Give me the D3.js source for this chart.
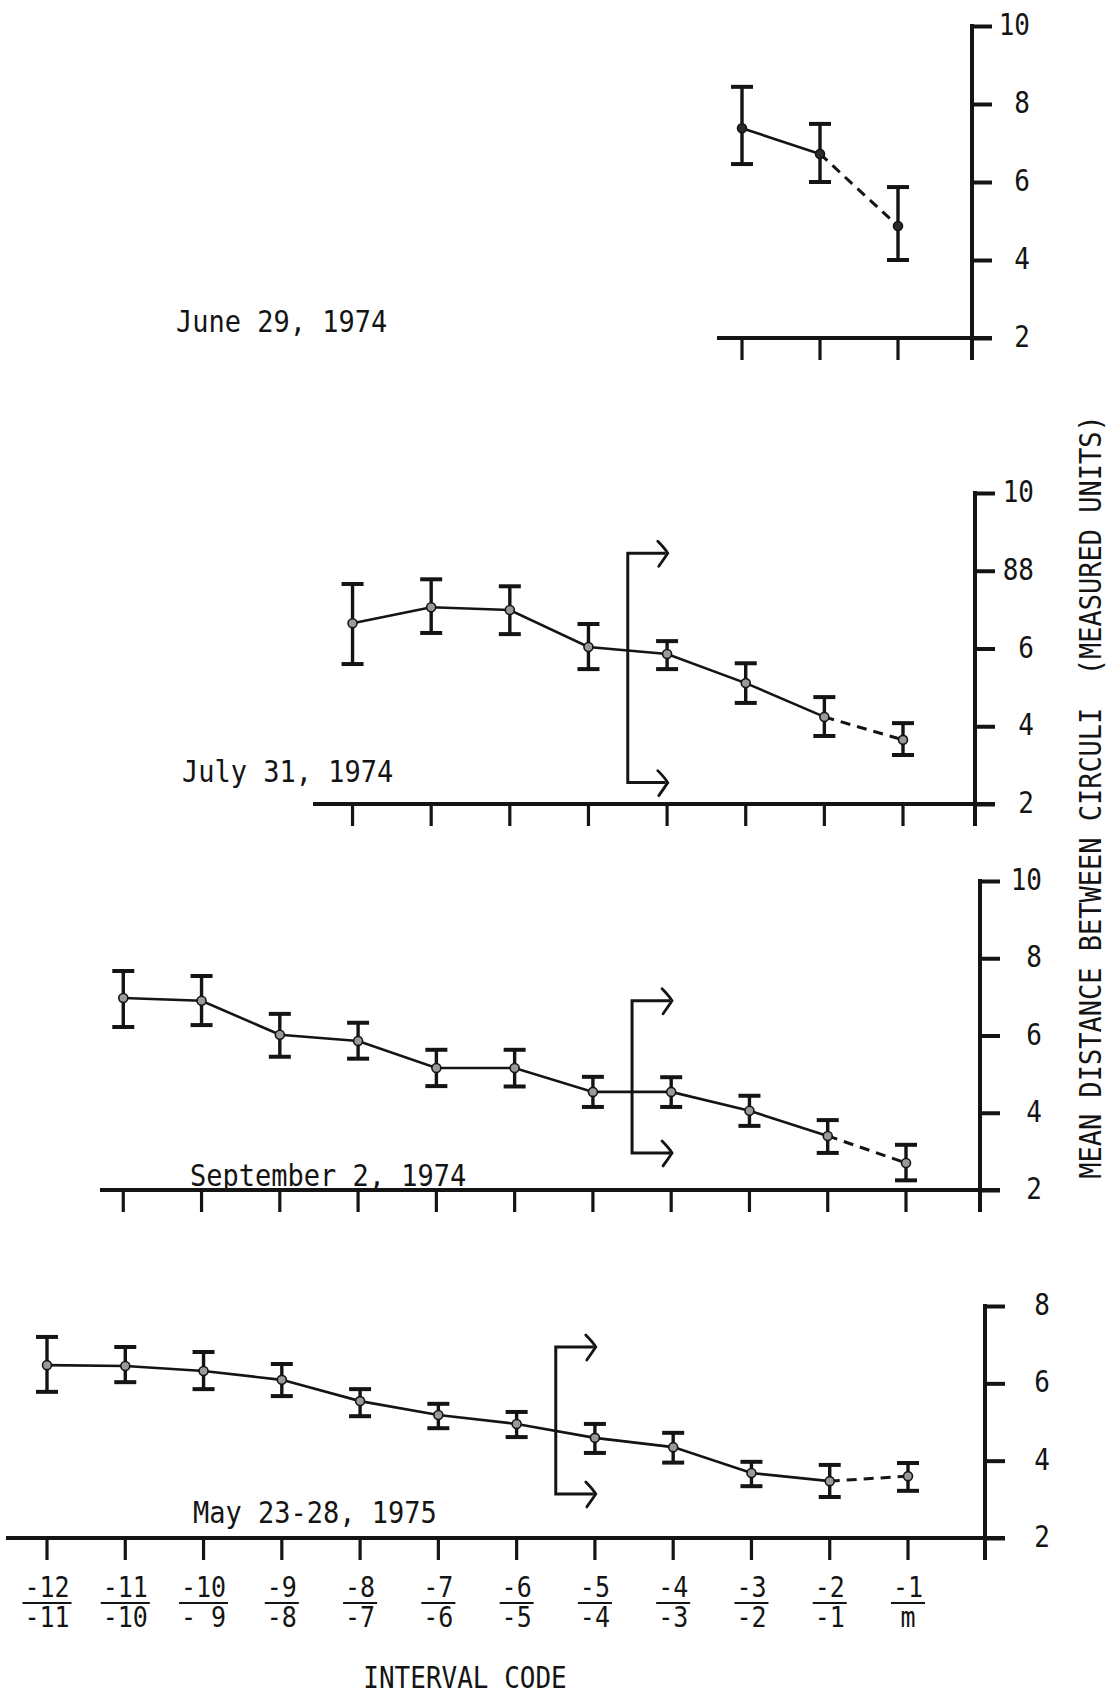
<!DOCTYPE html>
<html>
<head>
<meta charset="utf-8">
<script src="https://cdn.jsdelivr.net/npm/d3@7"></script>
<style>
  body { margin: 0; background: #fff; }
  svg { display: block; background: #fff; }
  text { font-family: "DejaVu Sans Mono", monospace; fill: #141414; }
</style>
</head>
<body>
<svg id="chart" width="1113" height="1695"></svg>
<script>
// Interval codes along the shared x axis (numerator over denominator)
const intervalCodes = ["-12/-11", "-11/-10", "-10/-9", "-9/-8", "-8/-7", "-7/-6",
                       "-6/-5", "-5/-4", "-4/-3", "-3/-2", "-2/-1", "-1/m"];
const codeNumerators   = ["-12", "-11", "-10", "-9", "-8", "-7", "-6", "-5", "-4", "-3", "-2", "-1"];
const codeDenominators = ["-11", "-10", "- 9", "-8", "-7", "-6", "-5", "-4", "-3", "-2", "-1", "m"];

// Sampling dates
const panelTitles = ["June 29, 1974", "July 31, 1974", "September 2, 1974", "May 23-28, 1975"];

// June 29, 1974 — mean and range of distance between circuli
const june1974Mean  = [7.38, 6.72, 4.87];
const june1974Upper = [8.44, 7.49, 5.87];
const june1974Lower = [6.46, 6.00, 4.00];

// July 31, 1974
const july1974Mean  = [6.65, 7.06, 6.99, 6.04, 5.86, 5.11, 4.24, 3.65];
const july1974Upper = [7.66, 7.78, 7.60, 6.63, 6.19, 5.62, 4.75, 4.08];
const july1974Lower = [5.60, 6.40, 6.37, 5.47, 5.47, 4.60, 3.75, 3.26];

// September 2, 1974
const sept1974Mean  = [6.97, 6.90, 6.02, 5.86, 5.16, 5.16, 4.54, 4.54, 4.05, 3.40, 2.70];
const sept1974Upper = [7.67, 7.54, 6.56, 6.33, 5.63, 5.63, 4.93, 4.92, 4.44, 3.81, 3.17];
const sept1974Lower = [6.22, 6.27, 5.45, 5.40, 4.69, 4.68, 4.15, 4.15, 3.66, 2.96, 2.25];

// May 23-28, 1975
const may1975Mean  = [6.47, 6.45, 6.32, 6.09, 5.54, 5.18, 4.95, 4.59, 4.35, 3.68, 3.47, 3.60];
const may1975Upper = [7.20, 6.94, 6.81, 6.50, 5.85, 5.47, 5.26, 4.95, 4.72, 3.97, 3.89, 3.94];
const may1975Lower = [5.78, 6.03, 5.85, 5.67, 5.15, 4.84, 4.61, 4.20, 3.95, 3.34, 3.06, 3.22];

// Y tick values and their printed labels
const yTicksTen  = [10, 8, 6, 4, 2];
const yTicksEight = [8, 6, 4, 2];
const june1974TickLabels = ["10", "8", "6", "4", "2"];
const july1974TickLabels = ["10", "88", "6", "4", "2"];
const sept1974TickLabels = ["10", "8", "6", "4", "2"];
const may1975TickLabels  = ["8", "6", "4", "2"];

// Annulus brackets: the pair of codes they fall between
const july1974Bracket = ["-5/-4", "-4/-3"];
const sept1974Bracket = ["-5/-4", "-4/-3"];
const may1975Bracket  = ["-6/-5", "-5/-4"];

const yAxisTitle = "MEAN DISTANCE BETWEEN CIRCULI  (MEASURED UNITS)";
const xAxisTitle = "INTERVAL CODE";

const panels = [
  { title: panelTitles[0], mean: june1974Mean, upper: june1974Upper, lower: june1974Lower,
    ticks: yTicksTen, tickLabels: june1974TickLabels, bracket: null,
    L: { x0: 40, x1: 898, axisX: 972, yBottom: 338, yTop: 26, top: 10, baseStart: 717,
         labelX: 1030, titleX: 176, titleY: 332, marker: "#2b2b2b", span: null } },
  { title: panelTitles[1], mean: july1974Mean, upper: july1974Upper, lower: july1974Lower,
    ticks: yTicksTen, tickLabels: july1974TickLabels, bracket: july1974Bracket,
    L: { x0: 38, x1: 903, axisX: 975, yBottom: 804, yTop: 493, top: 10, baseStart: 313,
         labelX: 1034, titleX: 182, titleY: 782, marker: "#9a9a9a", span: [8.45, 2.55] } },
  { title: panelTitles[2], mean: sept1974Mean, upper: sept1974Upper, lower: sept1974Lower,
    ticks: yTicksTen, tickLabels: sept1974TickLabels, bracket: sept1974Bracket,
    L: { x0: 45, x1: 906, axisX: 980, yBottom: 1190, yTop: 881, top: 10, baseStart: 100,
         labelX: 1042, titleX: 190, titleY: 1186, marker: "#9a9a9a", span: [6.9, 2.96] } },
  { title: panelTitles[3], mean: may1975Mean, upper: may1975Upper, lower: may1975Lower,
    ticks: yTicksEight, tickLabels: may1975TickLabels, bracket: may1975Bracket,
    L: { x0: 47, x1: 908, axisX: 985, yBottom: 1538, yTop: 1306, top: 8, baseStart: 6,
         labelX: 1050, titleX: 193, titleY: 1523, marker: "#9a9a9a", span: [6.94, 3.14] } }
];

const svg = d3.select("#chart");
const INK = "#141414";

// Draws text slightly stretched vertically, like the narrow typewriter face
function label(g, str, x, y, size, anchor, rotate) {
  return g.append("text")
    .attr("transform", `translate(${x},${y})` + (rotate ? ` rotate(${rotate})` : "") + " scale(1,1.13)")
    .attr("text-anchor", anchor || "start")
    .style("font-size", size + "px")
    .style("white-space", "pre")
    .text(str);
}

panels.forEach((p, pi) => {
  const L = p.L;
  const g = svg.append("g").attr("class", "panel-" + pi);
  const x = d3.scalePoint().domain(intervalCodes).range([L.x0, L.x1]);
  const y = d3.scaleLinear().domain([2, L.top]).range([L.yBottom, L.yTop]);

  const codes = intervalCodes.slice(intervalCodes.length - p.mean.length);
  const pts = codes.map((c, i) => ({ code: c, m: p.mean[i], hi: p.upper[i], lo: p.lower[i] }));

  // Baseline (x axis) running into the right-hand y axis
  g.append("line")
    .attr("x1", L.baseStart).attr("x2", L.axisX + 20)
    .attr("y1", y(2)).attr("y2", y(2))
    .attr("stroke", INK).attr("stroke-width", 4);

  // X ticks under each sampled interval
  g.selectAll("line.xt").data(codes).join("line").attr("class", "xt")
    .attr("x1", d => x(d)).attr("x2", d => x(d))
    .attr("y1", y(2)).attr("y2", y(2) + 22)
    .attr("stroke", INK).attr("stroke-width", 3.2);

  // Right-hand y axis with ticks pointing outward
  const axis = d3.axisRight(y).tickValues(p.ticks).tickSize(20).tickFormat("");
  const ag = g.append("g").attr("transform", `translate(${L.axisX},0)`).call(axis);
  ag.select(".domain").remove();
  ag.selectAll(".tick line").attr("stroke", INK).attr("stroke-width", 4);
  g.append("line")
    .attr("x1", L.axisX).attr("x2", L.axisX)
    .attr("y1", y(L.top) - 2).attr("y2", y(2) + 22)
    .attr("stroke", INK).attr("stroke-width", 4);

  p.ticks.forEach((t, i) => {
    label(g, p.tickLabels[i], L.labelX, y(t) + 9, 26, "end");
  });

  // Annulus bracket with arrows
  if (p.bracket) {
    const bx = (x(p.bracket[0]) + x(p.bracket[1])) / 2;
    const yT = y(L.span[0]), yB = y(L.span[1]);
    const tip = bx + 40;
    g.append("path")
      .attr("d", `M${tip - 2},${yT} H${bx} V${yB} H${tip - 2}`)
      .attr("fill", "none").attr("stroke", INK).attr("stroke-width", 3);
    [yT, yB].forEach(ay => {
      g.append("path")
        .attr("d", `M${tip - 10},${ay - 12} Q${tip - 3},${ay - 5} ${tip},${ay} Q${tip - 4},${ay + 6} ${tip - 9},${ay + 13}`)
        .attr("fill", "none").attr("stroke", INK).attr("stroke-width", 2.8)
        .attr("stroke-linecap", "round");
    });
  }

  // Connecting line: solid, with the final (margin) segment dashed
  const line = d3.line().x(d => x(d.code)).y(d => y(d.m));
  g.append("path").datum(pts.slice(0, pts.length - 1))
    .attr("d", line).attr("fill", "none")
    .attr("stroke", INK).attr("stroke-width", 2.6);
  g.append("path").datum(pts.slice(pts.length - 2))
    .attr("d", line).attr("fill", "none")
    .attr("stroke", INK).attr("stroke-width", 3).attr("stroke-dasharray", "10,7");

  // Error bars
  const eb = g.selectAll("g.eb").data(pts).join("g").attr("class", "eb");
  eb.append("line")
    .attr("x1", d => x(d.code)).attr("x2", d => x(d.code))
    .attr("y1", d => y(d.hi)).attr("y2", d => y(d.lo))
    .attr("stroke", INK).attr("stroke-width", 3.4);
  ["hi", "lo"].forEach(k => {
    eb.append("line")
      .attr("x1", d => x(d.code) - 11).attr("x2", d => x(d.code) + 11)
      .attr("y1", d => y(d[k])).attr("y2", d => y(d[k]))
      .attr("stroke", INK).attr("stroke-width", 4);
  });

  // Mean markers
  g.selectAll("circle.m").data(pts).join("circle").attr("class", "m")
    .attr("cx", d => x(d.code)).attr("cy", d => y(d.m)).attr("r", 4.5)
    .attr("fill", L.marker).attr("stroke", INK).attr("stroke-width", 1.6);

  label(g, p.title, L.titleX, L.titleY, 27, "start");

  // Interval code labels beneath the bottom panel
  if (pi === panels.length - 1) {
    intervalCodes.forEach((c, i) => {
      const cx = x(c);
      label(g, codeNumerators[i], cx, 1597, 25, "middle");
      label(g, codeDenominators[i], cx, 1627, 25, "middle");
      const w = Math.max(codeNumerators[i].length, codeDenominators[i].length) * 15 + 4;
      g.append("line")
        .attr("x1", cx - w / 2).attr("x2", cx + w / 2)
        .attr("y1", 1603).attr("y2", 1603)
        .attr("stroke", INK).attr("stroke-width", 2);
    });
  }
});

label(svg, xAxisTitle, 465, 1688, 26, "middle");
label(svg, yAxisTitle, 1101, 797, 27, "middle", -90);
</script>
</body>
</html>
